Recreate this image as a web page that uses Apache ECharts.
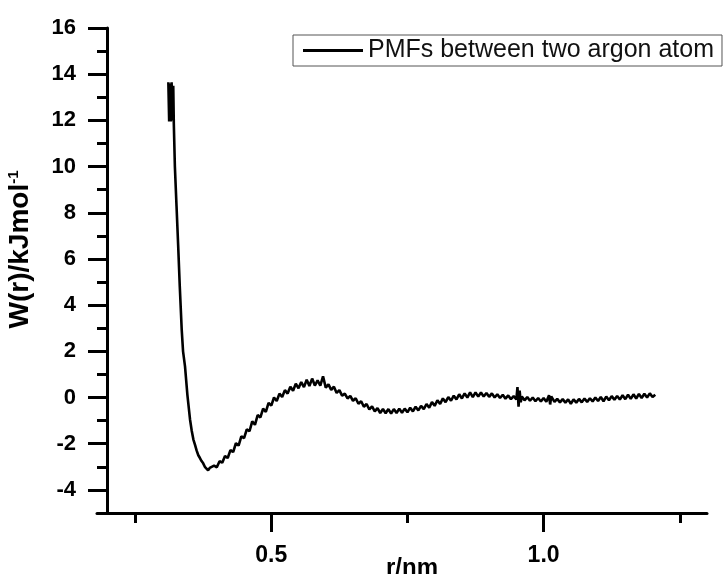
<!DOCTYPE html>
<html>
<head>
<meta charset="utf-8">
<script src="https://cdn.jsdelivr.net/npm/echarts@6/dist/echarts.min.js"></script>
<style>
html,body{margin:0;padding:0;background:#fff;}
#chart{width:727px;height:574px;}
</style>
</head>
<body>
<div id="chart"></div>
<script>
// ---- data ----
const seriesName = 'PMFs between two argon atom';
const rValues = [
  0.311,0.3125,0.314,0.3155,0.317,0.3185,0.320,0.321,0.323,0.326,0.329,0.332,0.3355,0.338,0.3416,0.346,0.3508,0.354,0.357,0.360,0.363,0.366,0.369,0.372,0.375,0.378,0.381,0.384,0.387,0.390,
  0.395,0.400,0.405,0.410,0.415,0.420,0.425,0.430,0.435,0.440,0.445,0.450,0.455,0.460,0.465,0.470,0.475,0.480,0.485,0.490,0.495,
  0.500,0.505,0.510,0.515,0.520,0.525,0.530,0.535,0.540,0.545,0.550,0.555,0.560,0.565,0.570,0.575,0.580,0.585,0.590,0.595,
  0.600,0.605,0.610,0.615,0.620,0.625,0.630,0.635,0.640,0.645,0.650,0.655,0.660,0.665,0.670,0.675,0.680,0.685,0.690,0.695,
  0.700,0.705,0.710,0.715,0.720,0.725,0.730,0.735,0.740,0.745,0.750,0.755,0.760,0.765,0.770,0.775,0.780,0.785,0.790,0.795,
  0.800,0.805,0.810,0.815,0.820,0.825,0.830,0.835,0.840,0.845,0.850,0.855,0.860,0.865,0.870,0.875,0.880,0.885,0.890,0.895,
  0.900,0.905,0.910,0.915,0.920,0.925,0.930,0.935,0.940,0.945,0.950,0.952,0.954,0.956,0.958,0.960,0.965,0.970,0.975,0.980,0.985,0.990,0.995,
  1.000,1.005,1.010,1.012,1.014,1.020,1.025,1.030,1.035,1.040,1.045,1.050,1.055,1.060,1.065,1.070,1.075,1.080,1.085,1.090,1.095,
  1.100,1.105,1.110,1.115,1.120,1.125,1.130,1.135,1.140,1.145,1.150,1.155,1.160,1.165,1.170,1.175,1.180,1.185,1.190,1.195,1.200,1.205
];
const wValues = [
  13.65,11.95,13.6,11.95,13.65,12.0,13.5,11.9,10.0,8.3,6.6,4.8,2.95,2.0,1.35,0.1,-0.95,-1.45,-1.82,-2.05,-2.3,-2.5,-2.62,-2.75,-2.85,-3.0,-2.98,-3.15,-3.05,-3.1,
  -2.95,-3.02,-2.76,-2.82,-2.53,-2.62,-2.28,-2.36,-1.98,-2.08,-1.68,-1.76,-1.38,-1.46,-1.03,-1.18,-0.76,-0.86,-0.48,-0.62,-0.23,
  -0.35,0.0,-0.15,0.17,0.02,0.32,0.17,0.47,0.29,0.6,0.4,0.67,0.45,0.77,0.5,0.82,0.52,0.74,0.52,0.92,
  0.43,0.57,0.33,0.47,0.2,0.32,0.08,0.17,-0.04,0.07,-0.14,-0.03,-0.27,-0.16,-0.4,-0.28,-0.52,-0.38,-0.6,-0.46,
  -0.67,-0.5,-0.68,-0.5,-0.69,-0.5,-0.67,-0.48,-0.66,-0.48,-0.64,-0.44,-0.6,-0.4,-0.56,-0.36,-0.5,-0.28,-0.44,-0.2,
  -0.36,-0.12,-0.28,-0.04,-0.2,0.02,-0.14,0.08,-0.08,0.14,-0.04,0.18,0.0,0.22,0.02,0.22,0.04,0.22,0.04,0.2,
  0.03,0.18,0.0,0.14,-0.02,0.12,-0.05,0.09,-0.07,0.06,-0.08,0.45,-0.4,0.3,-0.2,0.05,-0.12,0.02,-0.14,0.0,-0.16,-0.02,-0.17,
  -0.02,-0.18,0.1,-0.3,0.05,-0.19,-0.06,-0.21,-0.07,-0.22,-0.08,-0.27,-0.08,-0.22,-0.06,-0.21,-0.04,-0.19,-0.03,-0.17,0.0,
  -0.15,0.02,-0.16,0.04,-0.12,0.06,-0.1,0.07,-0.09,0.1,-0.07,0.12,-0.06,0.14,-0.04,0.15,-0.02,0.16,0.0,0.18,0.02,0.12
];
const xMajorTicks = [0.5, 1.0];
const xMinorTicks = [0.25, 0.75, 1.25];
const yMajorTicks = [-4, -2, 0, 2, 4, 6, 8, 10, 12, 14, 16];
const yMinorTicks = [-3, -1, 1, 3, 5, 7, 9, 11, 13, 15];
const xName = 'r/nm';
const yNameMain = 'W(r)/kJmol';
const yNameSup = '-1';

// ---- chart ----
const FONT = '"Liberation Sans", Arial, sans-serif';
const chart = echarts.init(document.getElementById('chart'), null, {renderer: 'canvas'});
const pts = rValues.map((r, i) => [r, wValues[i]]);
chart.setOption({
  backgroundColor: '#fff',
  animation: false,
  textStyle: {fontFamily: FONT},
  grid: {left: 97, right: 20, top: 28, bottom: 61, containLabel: false, outerBoundsMode: 'none'},
  legend: {
    data: [seriesName],
    left: 293, top: 35,
    padding: [3, 8, 3, 10],
    borderColor: '#555', borderWidth: 1,
    icon: 'rect', itemWidth: 60, itemHeight: 3,
    textStyle: {fontSize: 25, color: '#111', fontFamily: FONT}
  },
  xAxis: [
    {
      type: 'value', min: 0.18, max: 1.30, position: 'bottom',
      splitLine: {show: false},
      axisLine: {show: true, onZero: false, lineStyle: {color: '#000', width: 3}},
      axisTick: {show: true, customValues: xMajorTicks, length: 19, lineStyle: {color: '#000', width: 3}},
      axisLabel: {show: true, customValues: xMajorTicks, formatter: v => v.toFixed(1),
        fontSize: 23, fontWeight: 'bold', color: '#000', margin: 31, fontFamily: FONT},
      name: xName, nameLocation: 'middle', nameGap: 43, nameMoveOverlap: false,
      nameTextStyle: {fontSize: 24, fontWeight: 'bold', color: '#000', fontFamily: FONT, padding: [0, 0, 0, 20]}
    },
    {
      type: 'value', min: 0.18, max: 1.30, position: 'bottom',
      splitLine: {show: false},
      axisLine: {show: false, onZero: false},
      axisTick: {show: true, customValues: xMinorTicks, length: 10, lineStyle: {color: '#000', width: 3}},
      axisLabel: {show: false}
    }
  ],
  yAxis: [
    {
      type: 'value', min: -5, max: 16, position: 'left', offset: -10,
      splitLine: {show: false},
      axisLine: {show: true, onZero: false, lineStyle: {color: '#000', width: 3}},
      axisTick: {show: true, customValues: yMajorTicks, length: 19, lineStyle: {color: '#000', width: 3}},
      axisLabel: {show: true, customValues: yMajorTicks,
        fontSize: 22, fontWeight: 'bold', color: '#000', margin: 31, fontFamily: FONT},
      name: '{a|' + yNameMain + '}{b|' + yNameSup + '}',
      nameLocation: 'middle', nameGap: 72, nameMoveOverlap: false,
      nameTextStyle: {
        padding: [0, 0, 0, 42],
        rich: {
          a: {fontSize: 28, fontWeight: 'bold', color: '#000', fontFamily: FONT},
          b: {fontSize: 15, fontWeight: 'bold', color: '#000', fontFamily: FONT, padding: [0, 0, 14, 0]}
        }
      }
    },
    {
      type: 'value', min: -5, max: 16, position: 'left', offset: -10,
      splitLine: {show: false},
      axisLine: {show: false, onZero: false},
      axisTick: {show: true, customValues: yMinorTicks, length: 10, lineStyle: {color: '#000', width: 3}},
      axisLabel: {show: false}
    }
  ],
  series: [{
    name: seriesName,
    type: 'line',
    xAxisIndex: 0, yAxisIndex: 0,
    data: pts,
    showSymbol: false,
    symbol: 'none',
    itemStyle: {color: '#000'},
    lineStyle: {color: '#000', width: 2.6}
  }]
});
</script>
</body>
</html>
